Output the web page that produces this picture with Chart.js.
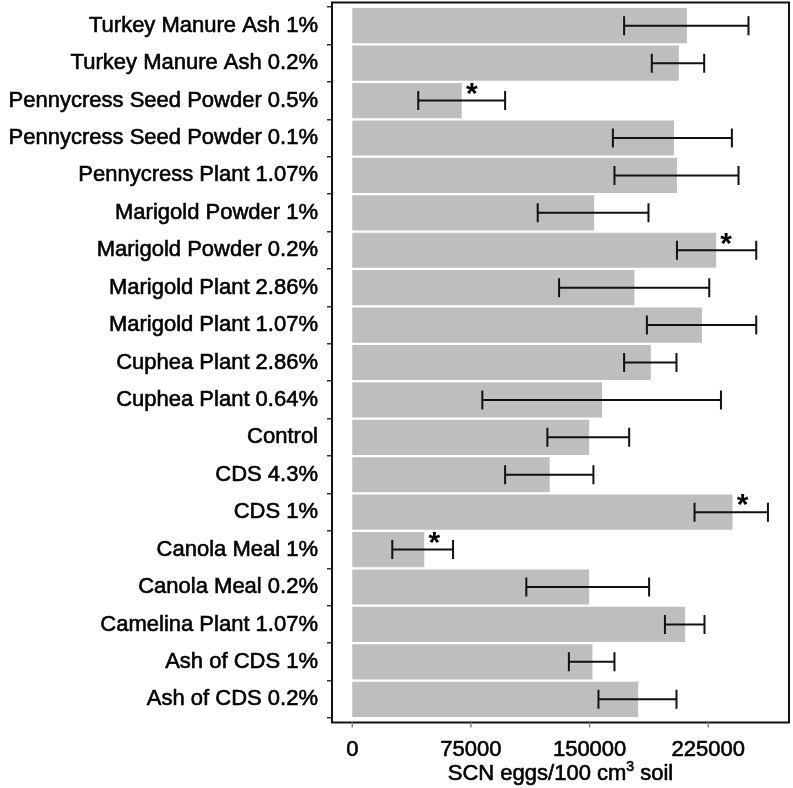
<!DOCTYPE html>
<html>
<head>
<meta charset="utf-8">
<script src="https://cdn.jsdelivr.net/npm/chart.js@4"></script>
<style>
  html, body { margin: 0; padding: 0; background: #fff; }
  #wrap { width: 793px; height: 788px; }
</style>
</head>
<body>
<div id="wrap"><canvas id="myChart" width="793" height="788"></canvas></div>
<script>
const categories = ['Turkey Manure Ash 1%', 'Turkey Manure Ash 0.2%', 'Pennycress Seed Powder 0.5%',
    'Pennycress Seed Powder 0.1%', 'Pennycress Plant 1.07%', 'Marigold Powder 1%', 'Marigold Powder 0.2%',
    'Marigold Plant 2.86%', 'Marigold Plant 1.07%', 'Cuphea Plant 2.86%', 'Cuphea Plant 0.64%', 'Control',
    'CDS 4.3%', 'CDS 1%', 'Canola Meal 1%', 'Canola Meal 0.2%', 'Camelina Plant 1.07%', 'Ash of CDS 1%',
    'Ash of CDS 0.2%'];
const means = [211500, 206400, 69200, 203300, 205200, 152900, 230000, 178300, 221000, 188700, 157900,
    149700, 124800, 240300, 45500, 149700, 210400, 151800, 180700];
const errLow = [171800, 189300, 41700, 164700, 165700, 117200, 205200, 130700, 186200, 171800, 82200,
    123300, 96600, 216300, 25300, 110000, 197600, 136900, 155600];
const errHigh = [250400, 222400, 96600, 239900, 244100, 187200, 255300, 225600, 255300, 204900, 233000,
    175000, 152400, 262700, 63700, 187600, 222600, 165700, 204900];
const significant = [false, false, true, false, false, false, true, false, false, false, false,
    false, false, true, true, false, false, false, false];
const xTicks = [0, 75000, 150000, 225000];
const xTitle = ['SCN eggs/100 cm', '3', ' soil'];   // middle part is a superscript

const FONT = "'Liberation Sans', Arial, sans-serif";

// frame, x tick marks, error bars, stars and the axis title
const extras = {
    id: 'extras',
    afterDatasetsDraw(chart) {
        const {ctx, chartArea: a, scales: {x, y}} = chart;
        const top = a.top - 4.5, bottom = a.bottom + 4.5;
        ctx.save();
        // error bars
        ctx.strokeStyle = '#111';
        ctx.lineWidth = 2;
        for (let i = 0; i < categories.length; i++) {
            const cy = y.getPixelForValue(i);
            const x0 = x.getPixelForValue(errLow[i]);
            const x1 = x.getPixelForValue(errHigh[i]);
            ctx.beginPath();
            ctx.moveTo(x0, cy); ctx.lineTo(x1, cy);
            ctx.moveTo(x0, cy - 9.5); ctx.lineTo(x0, cy + 9.5);
            ctx.moveTo(x1, cy - 9.5); ctx.lineTo(x1, cy + 9.5);
            ctx.stroke();
            if (significant[i]) {
                ctx.fillStyle = '#000';
                ctx.font = 'bold 30px ' + FONT;
                ctx.textAlign = 'center';
                ctx.textBaseline = 'middle';
                ctx.fillText('*', x.getPixelForValue(means[i]) + 10, cy - 6);
            }
        }
        // frame
        ctx.strokeStyle = '#111';
        ctx.lineWidth = 2;
        ctx.strokeRect(a.left, top, a.right - a.left, bottom - top);
        // x tick marks
        ctx.strokeStyle = '#888';
        ctx.lineWidth = 1.5;
        xTicks.forEach(v => {
            const px = x.getPixelForValue(v);
            ctx.beginPath();
            ctx.moveTo(px, bottom); ctx.lineTo(px, bottom + 5);
            ctx.stroke();
        });
        // axis title with superscript
        const big = '22px ' + FONT, small = '14px ' + FONT;
        ctx.font = big;
        const w1 = ctx.measureText(xTitle[0]).width, w3 = ctx.measureText(xTitle[2]).width;
        ctx.font = small;
        const w2 = ctx.measureText(xTitle[1]).width;
        let tx = (a.left + a.right) / 2 - (w1 + w2 + w3) / 2;
        const base = chart.height - 8;
        ctx.fillStyle = '#000';
        ctx.strokeStyle = '#000';
        ctx.lineWidth = 0.6;
        ctx.textAlign = 'left';
        ctx.textBaseline = 'alphabetic';
        ctx.font = big;
        ctx.fillText(xTitle[0], tx, base); ctx.strokeText(xTitle[0], tx, base);
        tx += w1;
        ctx.font = small;
        ctx.fillText(xTitle[1], tx, base - 9); ctx.strokeText(xTitle[1], tx, base - 9);
        tx += w2;
        ctx.font = big;
        ctx.fillText(xTitle[2], tx, base); ctx.strokeText(xTitle[2], tx, base);
        ctx.restore();
    }
};

const ctx = document.getElementById('myChart').getContext('2d');
const chart = new Chart(ctx, {
    type: 'bar',
    data: {
        labels: categories,
        datasets: [{
            data: means,
            backgroundColor: '#bebebe',
            borderWidth: 0,
            categoryPercentage: 1,
            barPercentage: 0.94
        }]
    },
    options: {
        indexAxis: 'y',
        responsive: false,
        animation: false,
        layout: { padding: { top: 7, right: 4, left: 0, bottom: 0 } },
        plugins: { legend: { display: false }, tooltip: { enabled: false } },
        scales: {
            x: {
                min: -12800,
                max: 276000,
                afterBuildTicks: s => { s.ticks = xTicks.map(v => ({ value: v })); },
                afterFit: s => { s.height = 70; s.paddingLeft = 0; s.paddingRight = 0; },
                grid: { display: false, drawTicks: false },
                border: { display: false },
                ticks: {
                    color: '#000',
                    font: { family: FONT, size: 22 },
                    textStrokeColor: '#000',
                    textStrokeWidth: 0.6,
                    padding: 19,
                    maxRotation: 0,
                    callback: v => String(v)
                }
            },
            y: {
                afterFit: s => { s.width = 332; s.paddingTop = 0; s.paddingBottom = 0; },
                grid: { drawOnChartArea: false, drawTicks: true, tickLength: 5, color: '#333', lineWidth: 1.5 },
                border: { display: false },
                ticks: {
                    color: '#000',
                    font: { family: FONT, size: 22 },
                    textStrokeColor: '#000',
                    textStrokeWidth: 0.6,
                    padding: 9,
                    autoSkip: false
                }
            }
        }
    },
    plugins: [extras]
});
</script>
</body>
</html>
